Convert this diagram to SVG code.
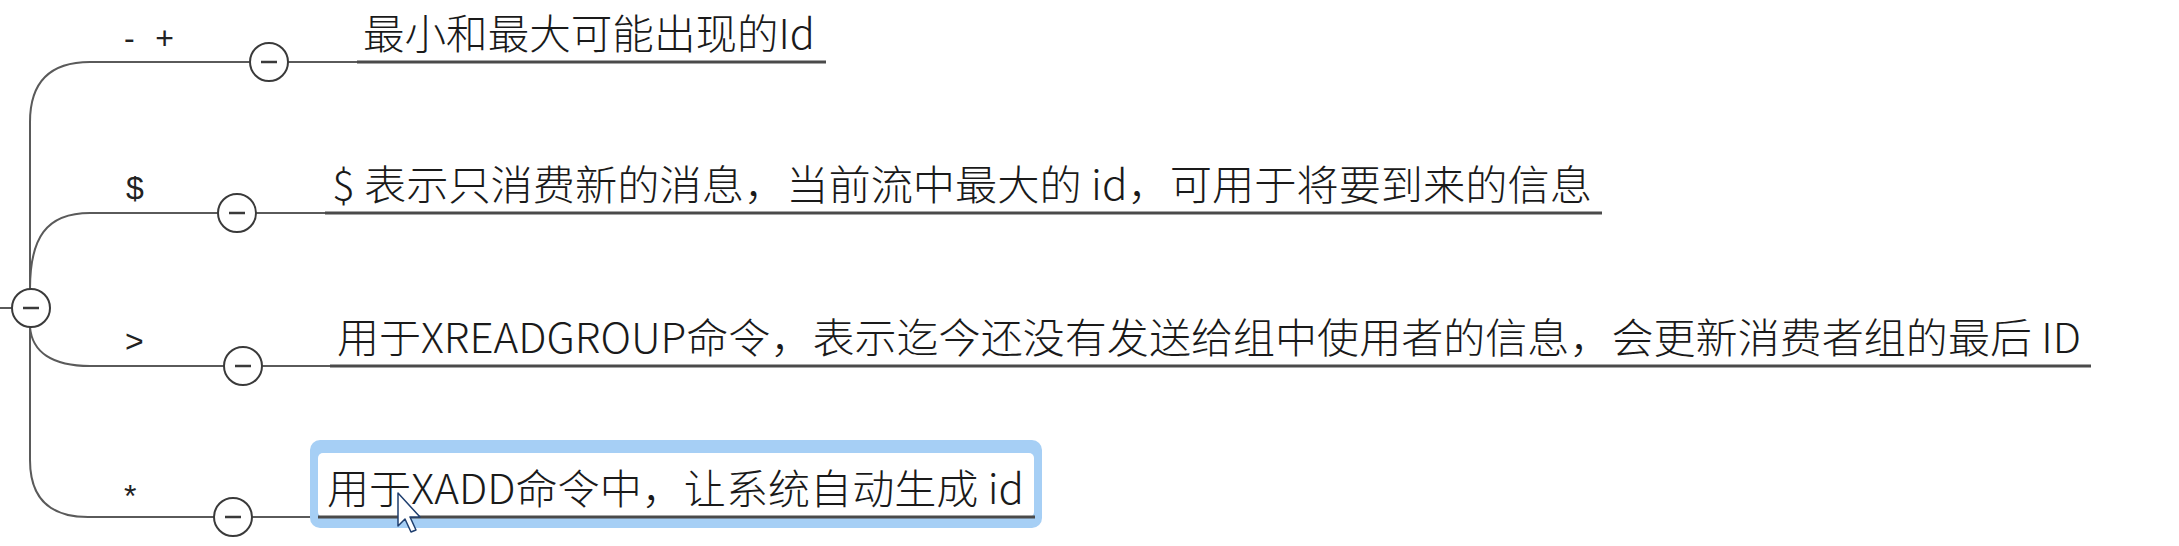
<svg xmlns="http://www.w3.org/2000/svg" width="2179" height="546" viewBox="0 0 2179 546">
<style>
.conn{fill:none;stroke:#5a5a5a;stroke-width:2}
.ul{fill:none;stroke:#4a4a4a;stroke-width:3}
.btn circle{fill:#fff;stroke:#3a3a3a;stroke-width:2}
.btn line{stroke:#3a3a3a;stroke-width:2.5}
.lbl{font-family:"Liberation Sans",Arial,sans-serif;font-size:32px;fill:#222}
.txt{font-family:"Noto Sans CJK SC","Noto Sans",sans-serif;font-size:41px;font-weight:300;fill:#1a1a1a}
</style>
<rect width="2179" height="546" fill="#fff"/>
<g id="connectors">
<path class="conn" d="M0,308 L14,308"/>
<path class="conn" d="M30,289 L30,122 Q30,62 90,62 L357,62"/>
<path class="conn" d="M30,289 C30,238 46,213 90,213 L325,213"/>
<path class="conn" d="M30,327 C32,352 52,366 90,366 L330,366"/>
<path class="conn" d="M30,327 L30,460 Q30,517 88,517 L318,517"/>
</g>
<g id="root">
<g class="btn"><circle cx="31" cy="308" r="19"/><line x1="23" y1="308" x2="39" y2="308"/></g>
</g>
<g id="node-minmax">
<text class="lbl" x="124" y="49" textLength="50" lengthAdjust="spacing">- +</text>
<g class="btn"><circle cx="269" cy="62" r="19"/><line x1="261" y1="62" x2="277" y2="62"/></g>
<path class="ul" d="M357,62 L826,62"/>
<text class="txt" x="363" y="49" textLength="452" lengthAdjust="spacingAndGlyphs">最小和最大可能出现的Id</text>
</g>
<g id="node-dollar">
<text class="lbl" x="126" y="199">$</text>
<g class="btn"><circle cx="237" cy="213" r="19"/><line x1="229" y1="213" x2="245" y2="213"/></g>
<path class="ul" d="M325,213 L1602,213"/>
<text class="txt" x="332" y="200" textLength="1260" lengthAdjust="spacingAndGlyphs">$ 表示只消费新的消息，当前流中最大的 id，可用于将要到来的信息</text>
</g>
<g id="node-gt">
<text class="lbl" x="125" y="352">&gt;</text>
<g class="btn"><circle cx="243" cy="366" r="19"/><line x1="235" y1="366" x2="251" y2="366"/></g>
<path class="ul" d="M330,366 L2091,366"/>
<text class="txt" x="337" y="353" textLength="1744" lengthAdjust="spacingAndGlyphs">用于XREADGROUP命令，表示迄今还没有发送给组中使用者的信息，会更新消费者组的最后 ID</text>
</g>
<g id="node-star">
<text class="lbl" x="124" y="507">*</text>
<g class="btn"><circle cx="233" cy="517" r="19"/><line x1="225" y1="517" x2="241" y2="517"/></g>
<rect x="310" y="440" width="732" height="88" rx="10" fill="#a6cff5"/>
<rect x="318" y="453" width="716" height="64" rx="5" fill="#fff"/>
<path class="ul" d="M318,517 L1035,517"/>
<text class="txt" x="327" y="504" textLength="697" lengthAdjust="spacingAndGlyphs">用于XADD命令中，让系统自动生成 id</text>
<path d="M398,493 L398,526 L405,519 L411,532 L416,530 L410,517 L420,517 Z" fill="#fff" stroke="#1f3f6f" stroke-width="1.5" stroke-linejoin="round"/>
</g>
</svg>
